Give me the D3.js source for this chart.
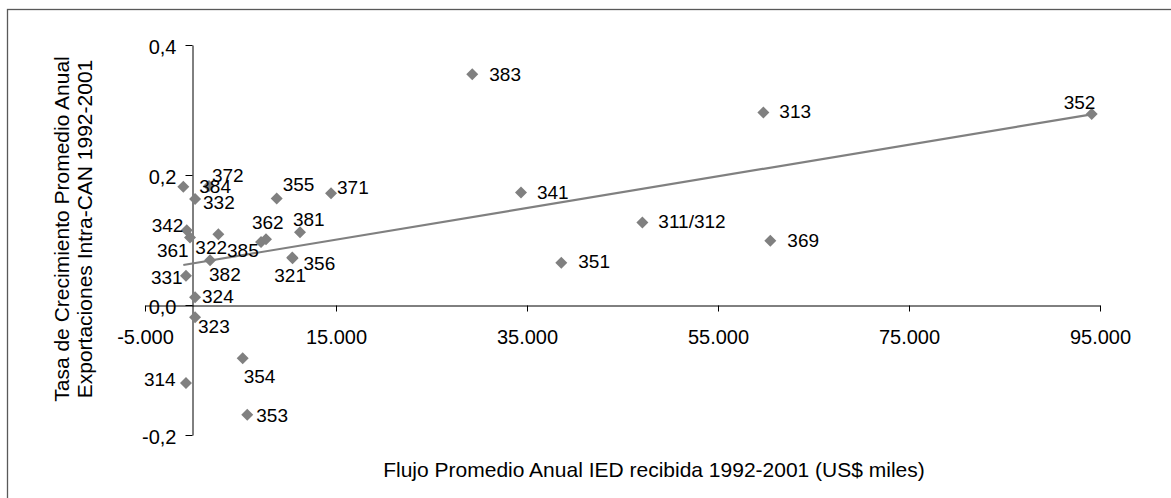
<!DOCTYPE html>
<html>
<head>
<meta charset="utf-8">
<script src="https://cdn.jsdelivr.net/npm/d3@7"></script>
<style>
  html, body { margin: 0; padding: 0; background: #fff; }
  svg { display: block; font-family: "Liberation Sans", Arial, sans-serif; }
</style>
</head>
<body>
<svg id="chart" width="1171" height="498"></svg>
<script>
// Industry codes (CIIU) plotted in the chart
const sectors = ["383", "341", "311/312", "351", "313", "369", "352",
  "384", "372", "332", "342", "361", "322", "385", "362", "381",
  "382", "321", "356", "331", "324", "355", "371",
  "323", "314", "354", "353"];

// Average annual FDI inflow 1992-2001 (US$ thousands)
const fdiFlow = [29270, 34370, 47080, 38590, 59750, 60480, 94130,
  -990, 1700, 240, -630, -290, 2680, 7150, 7670, 11230,
  1810, 10420, 10450, -710, 240, 8790, 14480,
  240, -710, 5230, 5710];

// Average annual growth rate of intra-CAN exports 1992-2001
const exportGrowth = [0.355, 0.173, 0.127, 0.065, 0.296, 0.099, 0.294,
  0.182, 0.183, 0.163, 0.115, 0.104, 0.109, 0.097, 0.101, 0.112,
  0.069, 0.073, 0.072, 0.045, 0.012, 0.164, 0.172,
  -0.019, -0.120, -0.082, -0.169];

// Axis ticks
const xTicks = [-5000, 15000, 35000, 55000, 75000, 95000];
const yTicks = [-0.2, 0.0, 0.2, 0.4];

// Linear trend: growth = intercept + slope * flow
const trendIntercept = 0.064;
const trendSlope = 2.436e-6;

// Where each point's label sits relative to its marker (px)
const labelOffset = {
  "383": [17, 0], "341": [16, 0], "311/312": [16, -1], "351": [17, -1],
  "313": [16, -1], "369": [17, 0], "352": [-28, -12],
  "384": [16, 0], "372": [3, -11], "332": [8, 3], "342": [-35, -5],
  "361": [-33, 13], "322": [-23, 13], "385": [-34, 8], "362": [-14, -17],
  "381": [-7, -13], "382": [-1, 14], "321": [-18, 18], "356": [11, 5],
  "331": [-35, 2], "324": [7, -1], "355": [6, -14], "371": [6, -6],
  "323": [3, 9], "314": [-42, -4], "354": [1, 18], "353": [9, 0]
};

const points = sectors.map((s, i) => ({ s, x: fdiFlow[i], y: exportGrowth[i] }));

const locale = d3.formatLocale({ decimal: ",", thousands: ".", grouping: [3], currency: ["$", ""], minus: "-" });
const fmtX = locale.format(",.0f");
const fmtY = locale.format(".1f");

const svg = d3.select("#chart");
const W = 1171, H = 498;

const x = d3.scaleLinear().domain([-5000, 95000]).range([145, 1100]);
const y = d3.scaleLinear().domain([-0.2, 0.4]).range([435, 45]);

// chart frame
svg.append("rect")
  .attr("x", 7.5).attr("y", 9.5)
  .attr("width", W + 20).attr("height", H + 20)
  .attr("fill", "#fff").attr("stroke", "#595959").attr("stroke-width", 1.3);

const labelSize = 19, tickSize = 20, titleSize = 21;
const font = "Liberation Sans, Arial, sans-serif";

// x axis crossing at y = 0
const gx = svg.append("g").attr("transform", `translate(0,${Math.round(y(0)) + 0.5})`);
gx.call(d3.axisBottom(x).tickValues(xTicks).tickFormat(fmtX).tickSize(6).tickSizeOuter(0));
gx.select(".domain").attr("stroke", "#000");
gx.selectAll(".tick line").attr("stroke", "#000");
gx.selectAll(".tick text")
  .attr("y", 31).attr("dy", "0.35em")
  .attr("font-size", tickSize).attr("font-family", font).attr("fill", "#000");

// y axis crossing at x = 0
const gy = svg.append("g").attr("transform", `translate(${Math.round(x(0)) - 0.5},0)`);
gy.call(d3.axisLeft(y).tickValues(yTicks).tickFormat(fmtY).tickSize(7).tickSizeOuter(0));
gy.select(".domain").attr("stroke", "#000");
gy.selectAll(".tick line").attr("stroke", "#000");
gy.selectAll(".tick text")
  .attr("x", -16).attr("dy", "0.4em")
  .attr("font-size", tickSize).attr("font-family", font).attr("fill", "#000");

// trend line over the range of the data
const xMin = d3.min(fdiFlow), xMax = d3.max(fdiFlow);
svg.append("path")
  .datum([xMin, xMax])
  .attr("d", d3.line().x(d => x(d)).y(d => y(trendIntercept + trendSlope * d)))
  .attr("fill", "none").attr("stroke", "#808080").attr("stroke-width", 2.2);

// diamond markers
const diamond = "M0,-6L6,0L0,6L-6,0Z";
svg.append("g").selectAll("path")
  .data(points).join("path")
  .attr("d", diamond)
  .attr("transform", d => `translate(${x(d.x)},${y(d.y)})`)
  .attr("fill", "#808080");

// point labels
svg.append("g").selectAll("text")
  .data(points).join("text")
  .attr("x", d => x(d.x) + labelOffset[d.s][0])
  .attr("y", d => y(d.y) + labelOffset[d.s][1])
  .attr("dy", "0.35em")
  .attr("font-size", labelSize)
  .attr("fill", "#000")
  .text(d => d.s);

// axis titles
svg.append("text")
  .attr("x", 654).attr("y", 470).attr("dy", "0.35em")
  .attr("text-anchor", "middle").attr("font-size", titleSize).attr("fill", "#000")
  .text("Flujo Promedio Anual IED recibida 1992-2001 (US$ miles)");

const yt = svg.append("text")
  .attr("transform", "translate(62,229) rotate(-90)")
  .attr("text-anchor", "middle").attr("font-size", titleSize).attr("fill", "#000");
yt.append("tspan").attr("x", 0).attr("dy", "0.35em").text("Tasa de Crecimiento Promedio Anual");
yt.append("tspan").attr("x", 0).attr("dy", 23).text("Exportaciones Intra-CAN 1992-2001");
</script>
</body>
</html>
